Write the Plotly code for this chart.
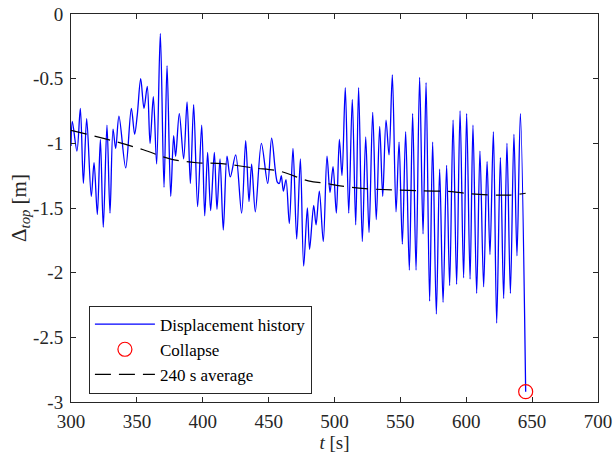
import plotly.graph_objects as go

# Displacement history (local extrema)
t_hist = [300, 301, 304.5, 307.1, 309.4, 311.9, 315.4, 317.5, 320.0, 322.3, 324.5, 327.3, 329.6, 331.9,
          333.9, 336.4, 341.5, 345.8, 348.3, 350.3, 352.9, 355.4, 357.9, 360.0, 362.5, 365.0, 367.8,
          370.6, 372.9, 375.7, 377.9, 379.4, 382.2, 385.5, 388.1, 390.6, 393.1, 396.1, 399.2, 401.5,
          403.7, 406.0, 408.8, 410.8, 413.1, 415.6, 418.4, 420.9, 425.0, 429.5, 432.6, 435.1, 437.1,
          439.9, 444.5, 449.3, 452.3, 456.6, 458.1, 459.6, 461.2, 463.2, 465.7, 468.5, 471.3, 474.1,
          476.6, 479.4, 481.1, 484.2, 486.0, 488.5, 491.5, 494.3, 496.6, 498.9, 501.4, 503.7, 505.7,
          508.2, 510.8, 513.5, 516.1, 518.3, 521.1, 523.7, 526.2, 529.0, 531.7, 534.3, 536.6, 539.1,
          541.4, 543.9, 546.7, 549.0, 551.5, 554.0, 556.8, 559.3, 561.9, 564.6, 567.2, 569.5, 572.2,
          574.5, 577.3, 579.8, 582.4, 585.1, 587.4, 590.0, 592.7, 595.3, 598.0, 600.3, 602.9, 605.1,
          607.9, 610.4, 613.2, 615.8, 618.0, 620.6, 623.1, 625.9, 628.4, 630.9, 633.5, 636.2, 638.5,
          641.1, 645.1]
d_hist = [-1.02, -0.83, -1.06, -0.73, -1.31, -0.81, -1.41, -1.15, -1.55, -0.97, -1.65, -0.86, -1.54, -0.89,
          -1.04, -0.79, -1.19, -0.73, -0.93, -0.78, -0.50, -0.73, -0.56, -1.00, -0.64, -1.16, -0.15,
          -1.34, -0.40, -1.41, -0.94, -1.10, -0.77, -1.12, -0.68, -1.31, -0.70, -1.49, -0.86, -1.56,
          -1.07, -1.52, -1.07, -1.51, -1.12, -1.67, -1.10, -1.26, -1.09, -1.54, -0.98, -1.45, -1.16,
          -1.53, -1.00, -1.31, -0.96, -1.30, -1.31, -1.25, -1.37, -1.28, -1.62, -1.04, -1.74, -1.12,
          -1.95, -1.50, -1.82, -1.48, -1.63, -1.37, -1.76, -1.10, -1.38, -1.18, -1.54, -0.97, -1.25,
          -0.57, -1.54, -0.66, -1.63, -0.57, -1.76, -0.95, -1.69, -0.76, -1.59, -0.87, -1.41, -0.82,
          -1.09, -0.47, -1.53, -0.99, -1.78, -0.91, -1.98, -0.77, -1.98, -0.49, -1.70, -0.53, -2.22,
          -0.99, -2.32, -1.20, -2.23, -1.17, -2.10, -0.82, -2.09, -0.75, -2.04, -0.77, -2.05, -0.86,
          -2.16, -1.06, -2.11, -1.14, -1.86, -0.91, -2.39, -1.11, -2.20, -1.00, -2.16, -0.93, -1.87,
          -0.77, -2.92]

# Collapse point
t_collapse = [645.1]
d_collapse = [-2.92]

# 240 s moving average
t_avg = [300, 333.4, 354.9, 375.1, 395.4, 414.4, 438.4, 458.6, 480.1, 494.0, 501.7, 523.2, 544.6,
         567.4, 589.0, 602.8, 633.2, 645.1]
d_avg = [-0.90, -0.985, -1.05, -1.12, -1.15, -1.157, -1.19, -1.216, -1.29, -1.31, -1.325, -1.35, -1.36,
         -1.368, -1.373, -1.39, -1.40, -1.386]

x_ticks = [300, 350, 400, 450, 500, 550, 600, 650, 700]
y_ticks = [0, -0.5, -1, -1.5, -2, -2.5, -3]
y_tick_text = ["0", "-0.5", "-1", "-1.5", "-2", "-2.5", "-3"]

FONT = "Liberation Serif"
AX = "#262626"

fig = go.Figure()
fig.add_trace(go.Scatter(x=t_hist, y=d_hist, mode="lines", name="Displacement history",
                         line=dict(color="#0000ff", width=1.3, shape="spline", smoothing=0.9)))
fig.add_trace(go.Scatter(x=t_collapse, y=d_collapse, mode="markers", name="Collapse",
                         marker=dict(symbol="circle-open", size=14, color="#ff0000",
                                     line=dict(width=1.2, color="#ff0000"))))
fig.add_trace(go.Scatter(x=t_avg, y=d_avg, mode="lines", name="240 s average",
                         line=dict(color="#000000", width=1.2, dash="16px,8px", shape="spline")))

axis_common = dict(showgrid=False, zeroline=False, showline=True, linecolor=AX, linewidth=1,
                   mirror="ticks", ticks="inside", ticklen=5, tickcolor=AX, automargin=False,
                   tickfont=dict(family=FONT, size=19, color=AX))
fig.update_xaxes(range=[300, 700], tickvals=x_ticks, ticklabelstandoff=2, **axis_common,
                 title=dict(text="<i>t</i> [s]", font=dict(family=FONT, size=19, color=AX), standoff=0))
fig.update_yaxes(range=[-3, 0], tickvals=y_ticks, ticktext=y_tick_text, ticklabelstandoff=3,
                 **axis_common,
                 title=dict(text="Δ<sub><i>top</i></sub> [m]", font=dict(family=FONT, size=21, color=AX),
                            standoff=0))

fig.update_layout(
    width=613, height=454,
    margin=dict(l=71, r=15, t=14, b=52, autoexpand=False),
    plot_bgcolor="white", paper_bgcolor="white",
    showlegend=True,
    legend=dict(x=0.034, y=0.135, xanchor="left", yanchor="middle",
                bgcolor="white", bordercolor=AX, borderwidth=1,
                font=dict(family=FONT, size=17, color="#000000"),
                tracegroupgap=0, itemwidth=60),
)

fig.write_html("out.html")
